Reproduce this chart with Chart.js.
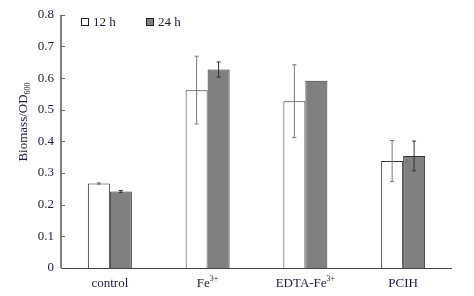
<!DOCTYPE html>
<html>
<head>
<meta charset="utf-8">
<script src="https://cdn.jsdelivr.net/npm/chart.js@4"></script>
<style>
  html, body { margin: 0; padding: 0; background: #fff; }
  #wrap { width: 474px; height: 296px; }
</style>
</head>
<body>
<div id="wrap"><canvas id="biomassChart" width="474" height="296"></canvas></div>
<script>
// data
const categories = ['control', 'Fe3+', 'EDTA-Fe3+', 'PCIH'];
const labelBase = ['control', 'Fe', 'EDTA-Fe', 'PCIH'];
const labelSup = ['', '3+', '3+', ''];
const seriesNames = ['12 h', '24 h'];
const biomass12h = [0.267, 0.562, 0.527, 0.338];
const biomass24h = [0.242, 0.627, 0.592, 0.354];
const err12h = [0.002, 0.107, 0.115, 0.065];
const err24h = [0.003, 0.024, 0, 0.047];
const yTicks = [0, 0.1, 0.2, 0.3, 0.4, 0.5, 0.6, 0.7, 0.8];

const FONT = "'Liberation Serif', 'Times New Roman', serif";
const TEXT_COLOR = '#1a1a3a';

// draws error bars, inside ticks, x labels with superscripts, y title and legend
const figurePlugin = {
    id: 'figurePlugin',
    afterDatasetsDraw(chart) {
        const ctx = chart.ctx;
        const y = chart.scales.y;
        const errs = [err12h, err24h];
        const errColors = ['#777777', '#333333'];
        ctx.save();
        chart.data.datasets.forEach((ds, di) => {
            const meta = chart.getDatasetMeta(di);
            meta.data.forEach((bar, i) => {
                const e = errs[di][i];
                if (!e) return;
                const v = ds.data[i];
                const yTop = y.getPixelForValue(v + e);
                const yBot = y.getPixelForValue(v - e);
                ctx.strokeStyle = errColors[di];
                ctx.lineWidth = 1;
                ctx.beginPath();
                ctx.moveTo(bar.x, yTop);
                ctx.lineTo(bar.x, yBot);
                ctx.moveTo(bar.x - 2, yTop);
                ctx.lineTo(bar.x + 2, yTop);
                ctx.moveTo(bar.x - 2, yBot);
                ctx.lineTo(bar.x + 2, yBot);
                ctx.stroke();
            });
        });
        ctx.restore();
    },
    afterDraw(chart) {
        const ctx = chart.ctx;
        const x = chart.scales.x;
        const y = chart.scales.y;
        const area = chart.chartArea;
        ctx.save();

        // axes
        ctx.strokeStyle = '#808080';
        ctx.lineWidth = 2;
        ctx.beginPath();
        ctx.moveTo(area.left, area.top);
        ctx.lineTo(area.left, area.bottom);
        ctx.stroke();
        ctx.strokeStyle = '#444444';
        ctx.lineWidth = 1;
        ctx.beginPath();
        ctx.moveTo(area.left, area.bottom + 0.5);
        ctx.lineTo(area.right, area.bottom + 0.5);
        ctx.stroke();

        // inside tick marks on y axis
        ctx.strokeStyle = '#666666';
        ctx.lineWidth = 1;
        yTicks.forEach(t => {
            const py = Math.round(y.getPixelForValue(t)) + 0.5;
            ctx.beginPath();
            ctx.moveTo(area.left, py);
            ctx.lineTo(area.left + 4, py);
            ctx.stroke();
        });

        // x labels with superscripts
        ctx.fillStyle = TEXT_COLOR;
        ctx.textBaseline = 'alphabetic';
        categories.forEach((c, i) => {
            const cx = x.getPixelForValue(i);
            ctx.font = '13px ' + FONT;
            const wBase = ctx.measureText(labelBase[i]).width;
            ctx.font = '8px ' + FONT;
            const wSup = labelSup[i] ? ctx.measureText(labelSup[i]).width : 0;
            const start = cx - (wBase + wSup) / 2;
            ctx.textAlign = 'left';
            ctx.font = '13px ' + FONT;
            ctx.fillText(labelBase[i], start, 287);
            if (labelSup[i]) {
                ctx.font = '8px ' + FONT;
                ctx.fillText(labelSup[i], start + wBase, 281);
            }
        });

        // y axis title: Biomass/OD600
        ctx.translate(27, 122);
        ctx.rotate(-Math.PI / 2);
        ctx.font = '13px ' + FONT;
        const main = 'Biomass/OD';
        const sub = '600';
        const wMain = ctx.measureText(main).width;
        ctx.font = '8px ' + FONT;
        const wSub = ctx.measureText(sub).width;
        const sx = -(wMain + wSub) / 2;
        ctx.textAlign = 'left';
        ctx.font = '13px ' + FONT;
        ctx.fillText(main, sx, 0);
        ctx.font = '8px ' + FONT;
        ctx.fillText(sub, sx + wMain, 3);
        ctx.setTransform(1, 0, 0, 1, 0, 0);

        // legend
        const legendX = [81, 146];
        chart.data.datasets.forEach((ds, di) => {
            const lx = legendX[di];
            ctx.fillStyle = ds.backgroundColor;
            ctx.fillRect(lx, 18, 8, 8);
            ctx.strokeStyle = '#222222';
            ctx.lineWidth = 1;
            ctx.strokeRect(lx + 0.5, 18.5, 7, 7);
            ctx.fillStyle = TEXT_COLOR;
            ctx.font = '13px ' + FONT;
            ctx.textAlign = 'left';
            ctx.fillText(seriesNames[di], lx + 12, 26);
        });
        ctx.restore();
    }
};

document.addEventListener('DOMContentLoaded', function () {
    const ctx = document.getElementById('biomassChart').getContext('2d');
    new Chart(ctx, {
        type: 'bar',
        data: {
            labels: categories,
            datasets: [
                {
                    label: seriesNames[0],
                    data: biomass12h,
                    backgroundColor: '#ffffff',
                    borderColor: '#333333',
                    borderWidth: 1,
                    categoryPercentage: 0.45,
                    barPercentage: 1.0
                },
                {
                    label: seriesNames[1],
                    data: biomass24h,
                    backgroundColor: '#808080',
                    borderColor: '#333333',
                    borderWidth: 1,
                    categoryPercentage: 0.45,
                    barPercentage: 1.0
                }
            ]
        },
        options: {
            responsive: false,
            animation: false,
            layout: { padding: { left: 0, right: 22, top: 13, bottom: 0 } },
            plugins: {
                legend: { display: false },
                tooltip: { enabled: false }
            },
            scales: {
                x: {
                    grid: { display: false, drawTicks: false },
                    border: { display: false },
                    ticks: { display: false },
                    afterFit(scale) { scale.height = 28; }
                },
                y: {
                    min: 0,
                    max: 0.8,
                    grid: { display: false, drawTicks: false },
                    border: { display: false },
                    afterBuildTicks(scale) {
                        scale.ticks = yTicks.map(v => ({ value: v }));
                    },
                    ticks: {
                        color: TEXT_COLOR,
                        padding: 7,
                        font: { family: FONT, size: 13 },
                        callback: v => (v === 0 ? '0' : v.toFixed(1))
                    },
                    afterFit(scale) { scale.width = 61; }
                }
            }
        },
        plugins: [figurePlugin]
    });
});
</script>
</body>
</html>
